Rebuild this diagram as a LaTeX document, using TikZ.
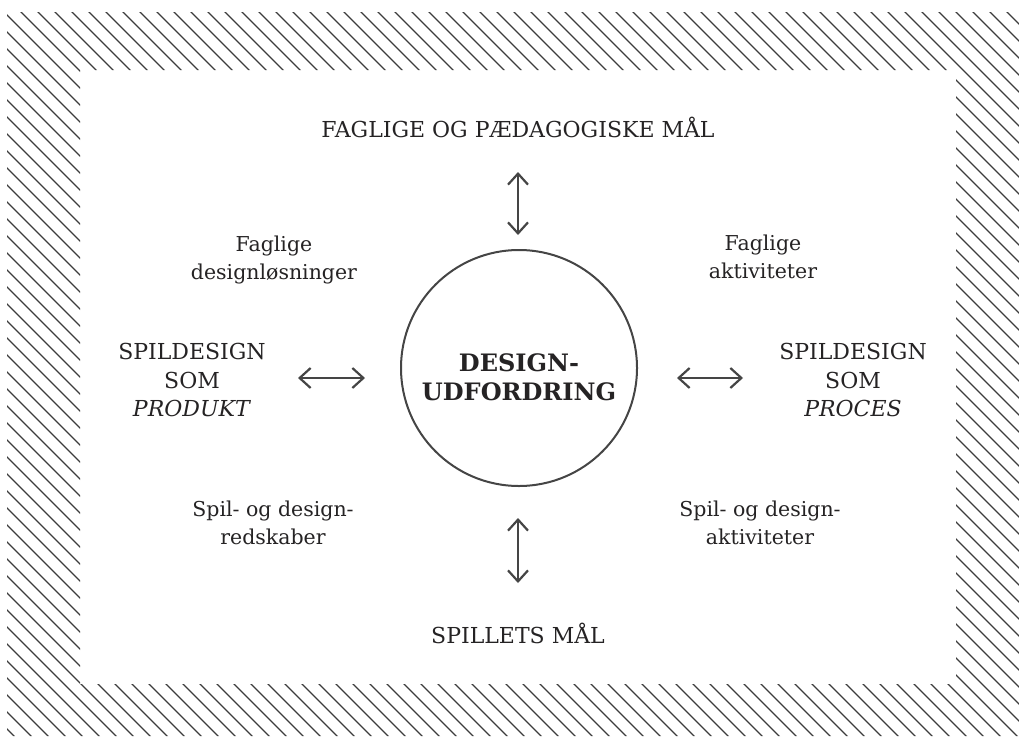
\documentclass[tikz,border=0pt]{standalone}
\usepackage{fontspec}
\setmainfont{DejaVu Serif}
\usetikzlibrary{arrows.meta}
\definecolor{ink}{HTML}{252324}
\definecolor{linegray}{HTML}{454545}
\definecolor{hatchgray}{HTML}{3C3C3C}
\begin{document}
\begin{tikzpicture}[x=1pt,y=-1pt,
  hatch/.style={draw=hatchgray,line width=1.2pt},
  headlabel/.style={font=\fontsize{22}{28.5}\selectfont, text=ink, align=center, inner sep=0pt},
  note/.style={font=\fontsize{20.5}{28}\selectfont, text=ink, align=center, inner sep=0pt},
  core/.style={circle, draw=linegray, line width=2pt, minimum size=236pt, inner sep=0pt},
  coretext/.style={font=\bfseries\fontsize{24}{29}\selectfont, text=ink, align=center, inner sep=0pt},
  link/.style={draw=linegray, line width=2.2pt, {Straight Barb[length=11pt,width=20pt]}-{Straight Barb[length=11pt,width=20pt]}}
]
\useasboundingbox (0,0) rectangle (1019,736);

% hatched frame around the white field
\begin{scope}[even odd rule]
  \clip (7,12) rectangle (1019,736) (80,70) rectangle (956,684);
  \foreach \k in {-44,...,60} {
    \draw[hatch] ({9+17*\k},0) -- ({9+17*\k+800},800);
  }
\end{scope}

% central circle
\node[core] (c) at (519,368) {};
\node[coretext] (ct) at (519,377) {DESIGN-\\UDFORDRING};

% outer labels
\node[headlabel] (goals) at (518,127) {FAGLIGE OG PÆDAGOGISKE MÅL};
\node[headlabel] (game) at (518,633) {SPILLETS MÅL};
\node[headlabel] (prod) at (192,380) {SPILDESIGN\\SOM\\\textit{PRODUKT}};
\node[headlabel] (proc) at (853,380) {SPILDESIGN\\SOM\\\textit{PROCES}};

% diagonal notes
\node[note] (n1) at (274,260) {Faglige\\designløsninger};
\node[note] (n2) at (763,257) {Faglige\\aktiviteter};
\node[note] (n3) at (273,523) {Spil- og design-\\redskaber};
\node[note] (n4) at (760,523) {Spil- og design-\\aktiviteter};

% arrow ends
\coordinate (tA) at (518,172); \coordinate (tB) at (518,235);
\coordinate (bA) at (518,518); \coordinate (bB) at (518,583);
\coordinate (lA) at (298,378); \coordinate (lB) at (365,378);
\coordinate (rA) at (677,378); \coordinate (rB) at (743,378);

\draw[link] (tA) -- (tB);
\draw[link] (bA) -- (bB);
\draw[link] (lA) -- (lB);
\draw[link] (rA) -- (rB);
\end{tikzpicture}
\end{document}
